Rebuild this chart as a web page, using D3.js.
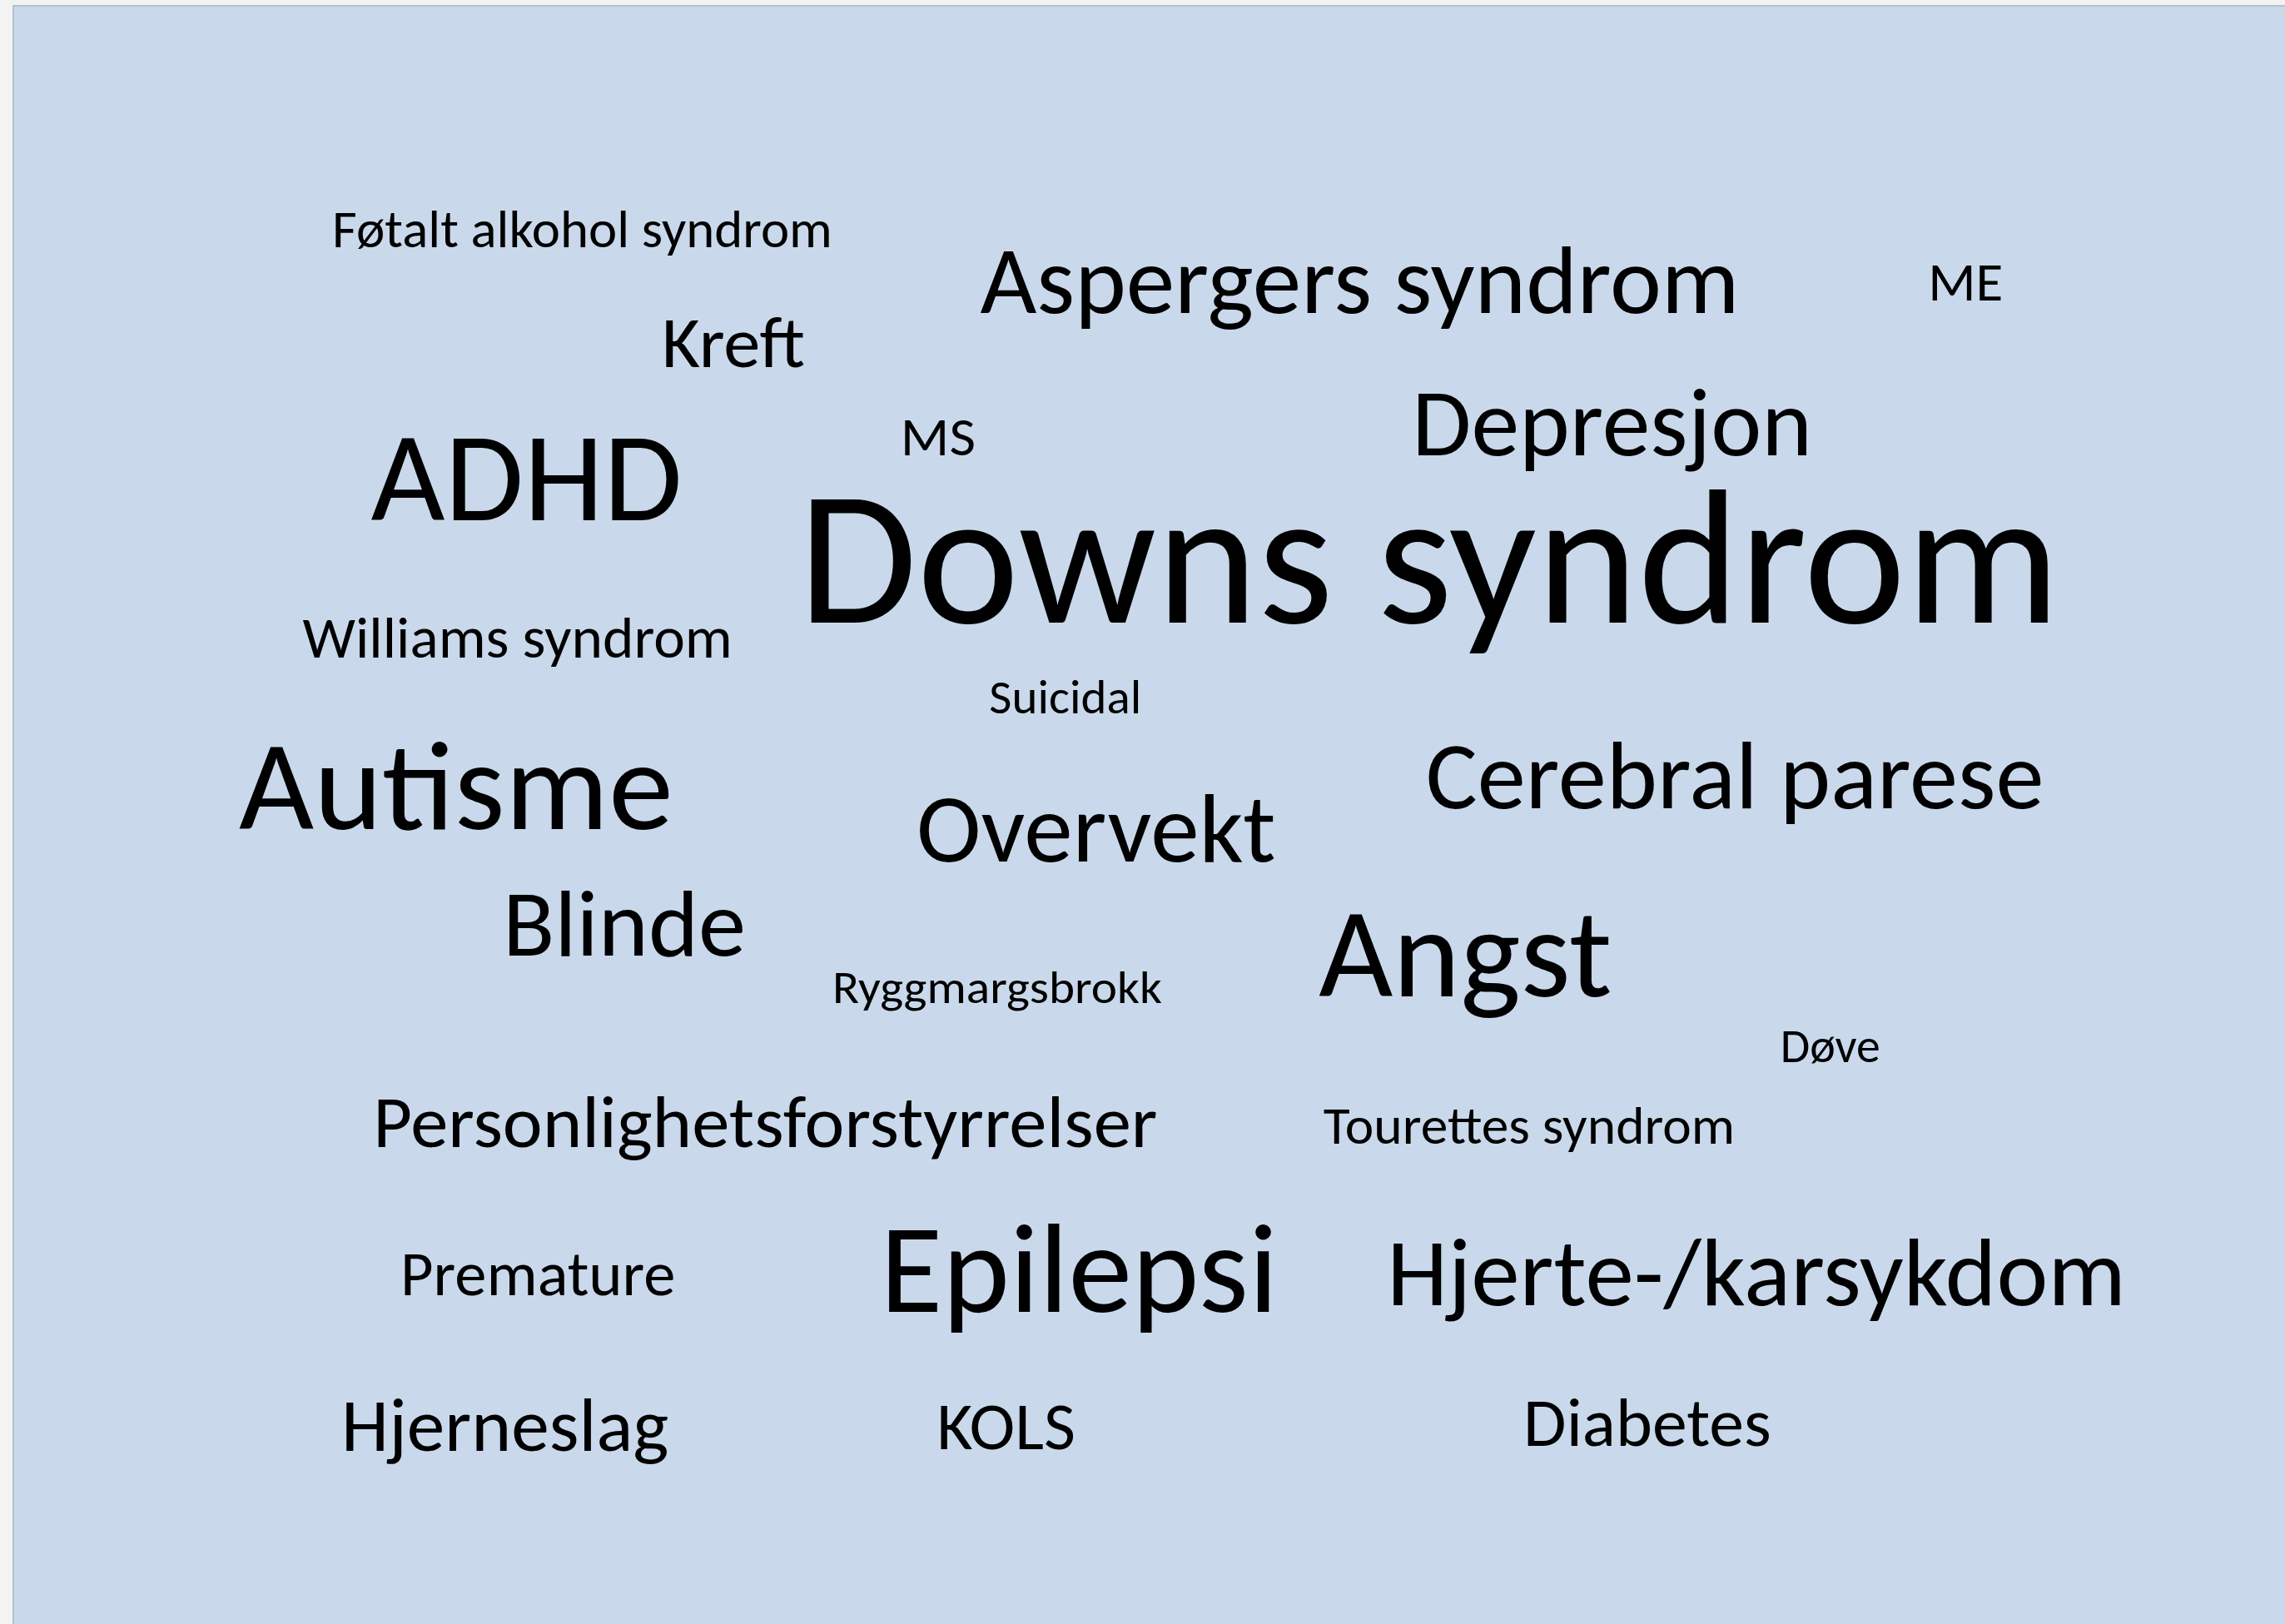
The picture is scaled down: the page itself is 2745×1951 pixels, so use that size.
<!DOCTYPE html>
<html>
<head>
<meta charset="utf-8">
<script src="https://cdn.jsdelivr.net/npm/d3@7"></script>
<style>
  html, body { margin: 0; padding: 0; background: #f3f4f1; }
  svg { display: block; }
</style>
</head>
<body>
<svg id="chart"></svg>
<script>
// ---- data ----
const words = [
  "Føtalt alkohol syndrom", "Aspergers syndrom", "ME", "Kreft", "MS", "Depresjon",
  "ADHD", "Downs syndrom", "Williams syndrom", "Suicidal", "Autisme", "Cerebral parese",
  "Overvekt", "Blinde", "Angst", "Ryggmargsbrokk", "Døve", "Personlighetsforstyrrelser",
  "Tourettes syndrom", "Premature", "Epilepsi", "Hjerte-/karsykdom", "Hjerneslag", "KOLS", "Diabetes"
];
// word weight (font size in points on the original slide)
const weights = [
  16.7, 30.3, 17.2, 22.5, 17.2, 29.8,
  40, 60, 18.2, 14.8, 40, 30.3,
  30.5, 29.5, 40, 14.5, 14.8, 23.2,
  16.5, 19.8, 40, 30.3, 23.7, 21.1, 21.6
];
// layout of each word in the cloud, in percent of the panel
const layoutLeft = [
  14.1, 42.6, 84.3, 28.6, 39.1, 61.6,
  15.8, 34.6, 12.8, 43.0, 10.0, 62.2,
  39.8, 21.6, 57.5, 36.1, 77.8, 15.9,
  57.7, 17.1, 38.2, 60.5, 14.5, 40.7, 66.5
];
const layoutRight = [
  36.1, 76.0, 87.6, 34.9, 42.4, 79.2,
  29.5, 90.1, 31.7, 49.7, 29.1, 89.4,
  55.6, 32.3, 70.4, 50.6, 82.2, 50.4,
  75.8, 29.2, 55.7, 93.0, 28.9, 46.8, 77.4
];
const layoutBaseline = [
  14.9, 19.0, 18.2, 22.3, 27.8, 27.8,
  31.8, 38.1, 40.3, 43.7, 50.9, 49.6,
  52.9, 58.7, 61.2, 61.6, 65.3, 70.5,
  70.3, 79.7, 80.7, 80.3, 89.3, 89.2, 89.0
];

// ---- setup ----
const W = 2745, H = 1951;
const panel = { x: 16, y: 7 };

const svg = d3.select("#chart").attr("width", W).attr("height", H);

svg.append("rect")
  .attr("x", panel.x).attr("y", panel.y)
  .attr("width", W - panel.x + 2).attr("height", H - panel.y + 2)
  .attr("fill", "#c9d9eb")
  .attr("stroke", "#b3c0ce")
  .attr("stroke-width", 2);

// font detection: prefer a Calibri-metric font if present
function hasFont(name) {
  const c = document.createElement("canvas").getContext("2d");
  const t = "Føtalt alkohol syndrom WMwil 0123";
  c.font = "100px monospace";
  const a = c.measureText(t).width;
  c.font = `100px "${name}", monospace`;
  const b = c.measureText(t).width;
  return Math.abs(a - b) > 0.5;
}
let family, capRatio;
if (hasFont("Carlito")) { family = "Carlito"; capRatio = 1.0; }
else if (hasFont("Calibri")) { family = "Calibri"; capRatio = 1.0; }
else { family = "Lato"; capRatio = 0.644 / 0.716; }

const x = d3.scaleLinear().domain([0, 100]).range([14, 2745]);
const y = d3.scaleLinear().domain([0, 100]).range([7, 1951]);
const size = d3.scaleLinear().domain([0, 60]).range([0, 230 * capRatio]);

const data = words.map((w, i) => ({
  text: w, weight: weights[i],
  x0: layoutLeft[i], x1: layoutRight[i], yb: layoutBaseline[i]
}));

svg.append("g")
  .selectAll("text")
  .data(data)
  .join("text")
  .attr("x", d => x(d.x0))
  .attr("y", d => y(d.yb))
  .attr("font-family", `${family}, "Open Sans", sans-serif`)
  .attr("font-size", d => size(d.weight))
  .attr("fill", "#000")
  .attr("textLength", d => x(d.x1) - x(d.x0))
  .attr("lengthAdjust", "spacingAndGlyphs")
  .text(d => d.text);
</script>
</body>
</html>
